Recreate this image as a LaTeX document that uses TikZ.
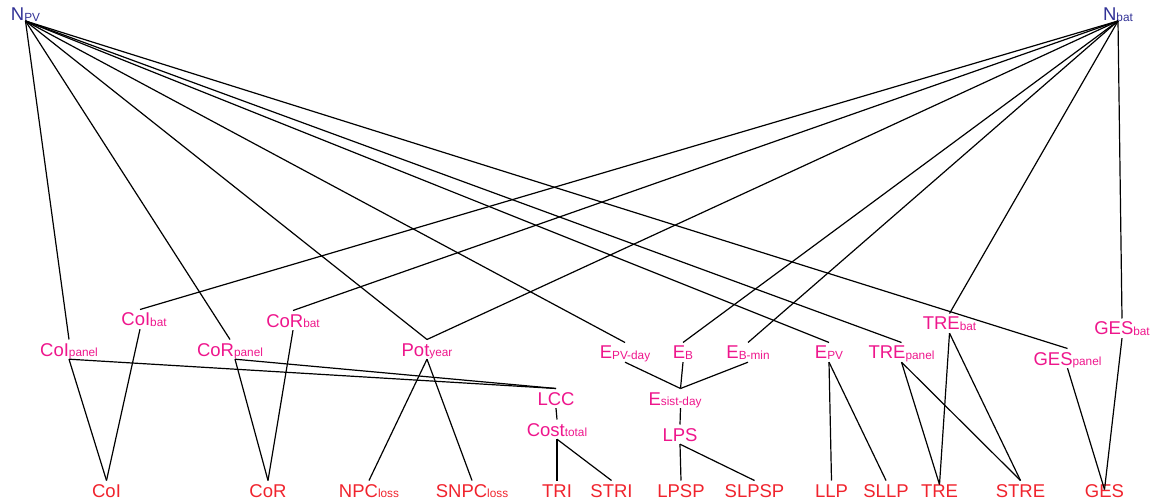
\documentclass[tikz,border=0pt]{standalone}
\usepackage{fontspec}
\setmainfont{Liberation Sans}
\definecolor{nblue}{RGB}{50,50,150}
\definecolor{nmag}{RGB}{238,22,140}
\definecolor{nred}{RGB}{240,35,45}
\newcommand{\sbs}[1]{\raisebox{-0.8pt}{\fontsize{11.8}{12}\selectfont #1}}
\tikzset{
  lbl/.style={inner sep=3pt, text height=13.3pt, text depth=0pt, anchor=base,
    font=\fontsize{18.5}{20}\selectfont},
  toplbl/.style={lbl, text=nblue},
  midlbl/.style={lbl, text=nmag},
  botlbl/.style={lbl, text=nred},
  link/.style={draw=black, line width=1.2pt}
}
\begin{document}
\begin{tikzpicture}[x=1pt,y=-1pt]
\useasboundingbox (0,0) rectangle (1156,502);
% top
\node[toplbl] (npv) at (25.5,21) {N\sbs{PV}};
\node[toplbl] (nbat) at (1118,21) {N\sbs{bat}};
% middle
\node[midlbl] (colp) at (69,356) {CoI\sbs{panel}};
\node[midlbl] (colb) at (144,326) {CoI\sbs{bat}};
\node[midlbl] (corp) at (230,356) {CoR\sbs{panel}};
\node[midlbl] (corb) at (293,327) {CoR\sbs{bat}};
\node[midlbl] (pot) at (427,356) {Pot\sbs{year}};
\node[midlbl] (epvd) at (625,359) {E\sbs{PV-day}};
\node[midlbl] (eb) at (683,359) {E\sbs{B}};
\node[midlbl] (ebm) at (748,359) {E\sbs{B-min}};
\node[midlbl] (esd) at (675,405) {E\sbs{sist-day}};
\node[midlbl] (lcc) at (556,405) {LCC};
\node[midlbl] (cost) at (557,436) {Cost\sbs{total}};
\node[midlbl] (lps) at (680,441) {LPS};
\node[midlbl] (epv) at (829,359) {E\sbs{PV}};
\node[midlbl] (trep) at (901.5,359) {TRE\sbs{panel}};
\node[midlbl] (treb) at (949.5,330) {TRE\sbs{bat}};
\node[midlbl] (gesp) at (1067.5,365) {GES\sbs{panel}};
\node[midlbl] (gesb) at (1122,335) {GES\sbs{bat}};
% bottom
\node[botlbl] (coi) at (106.5,497) {CoI};
\node[botlbl] (cor) at (268,497) {CoR};
\node[botlbl] (npc) at (369,497) {NPC\sbs{loss}};
\node[botlbl] (snpc) at (472,497) {SNPC\sbs{loss}};
\node[botlbl] (tri) at (557,497) {TRI};
\node[botlbl] (stri) at (611.5,497) {STRI};
\node[botlbl] (lpsp) at (681,497) {LPSP};
\node[botlbl] (slpsp) at (754.5,497) {SLPSP};
\node[botlbl] (llp) at (831.5,497) {LLP};
\node[botlbl] (sllp) at (886,497) {SLLP};
\node[botlbl] (tre) at (939.5,497) {TRE};
\node[botlbl] (stre) at (1020.5,497) {STRE};
\node[botlbl] (ges) at (1104.5,497) {GES};
% edges from N_PV
\foreach \t in {colp,corp,pot,epvd,epv,trep,gesp}
  \draw[link] (npv.base) -- (\t.north);
% edges from N_bat
\draw[link] (nbat.base) -- ([xshift=-4pt]colb.north);
\foreach \t in {corb,pot,eb,ebm,treb,gesb}
  \draw[link] (nbat.base) -- (\t.north);
% middle to lower
\draw[link] (colp.south) -- (coi.north);
\draw[link] (colp.south) -- (lcc.north);
\draw[link] ([xshift=-4pt]colb.south) -- (coi.north);
\draw[link] ([xshift=5pt]corp.south) -- (cor.north);
\draw[link] ([xshift=5pt]corp.south) -- (lcc.north);
\draw[link] (corb.south) -- (cor.north);
\draw[link] (pot.south) -- (npc.north);
\draw[link] (pot.south) -- (snpc.north);
\draw[link] (epvd.south) -- ([xshift=5.5pt]esd.north);
\draw[link] (eb.south) -- ([xshift=5.5pt]esd.north);
\draw[link] (ebm.south) -- ([xshift=5.5pt]esd.north);
\draw[link] ([xshift=5.5pt]esd.south) -- (lps.north);
\draw[link] (lps.south) -- (lpsp.north);
\draw[link] (lps.south) -- (slpsp.north);
\draw[link] (lcc.south) -- (cost.north);
\draw[link] (cost.south) -- (tri.north);
\draw[link] (cost.south) -- (stri.north);
\draw[link] (epv.south) -- (llp.north);
\draw[link] (epv.south) -- (sllp.north);
\draw[link] (trep.south) -- ([yshift=-4pt]tre.north);
\draw[link] (trep.south) -- (stre.north);
\draw[link] (treb.south) -- ([yshift=-4pt]tre.north);
\draw[link] (treb.south) -- (stre.north);
\draw[link] (gesp.south) -- ([yshift=-9pt]ges.north);
\draw[link] (gesb.south) -- ([yshift=-9pt]ges.north);
\end{tikzpicture}
\end{document}
